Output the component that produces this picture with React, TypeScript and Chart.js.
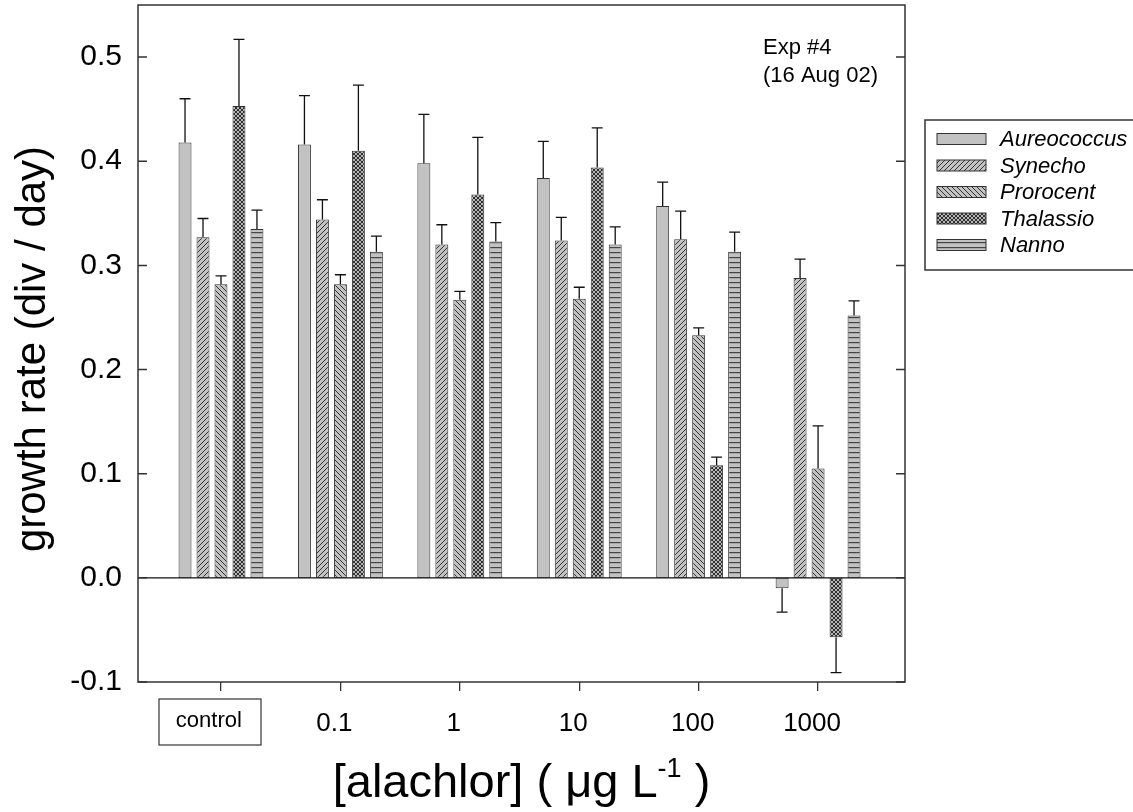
import React, { useEffect, useRef } from 'react';
import { Chart, registerables } from 'chart.js';

Chart.register(...registerables);

const categories = ['control', '0.1', '1', '10', '100', '1000'];
const seriesNames = ['Aureococcus', 'Synecho', 'Prorocent', 'Thalassio', 'Nanno'];

const aureococcus = [0.418, 0.416, 0.398, 0.384, 0.357, -0.010];
const synecho = [0.327, 0.344, 0.320, 0.324, 0.325, 0.288];
const prorocent = [0.282, 0.282, 0.267, 0.268, 0.233, 0.105];
const thalassio = [0.453, 0.410, 0.368, 0.394, 0.108, -0.057];
const nanno = [0.335, 0.313, 0.323, 0.320, 0.313, 0.252];

const aureococcusErr = [0.042, 0.047, 0.047, 0.035, 0.023, 0.023];
const synechoErr = [0.018, 0.019, 0.019, 0.022, 0.027, 0.018];
const prorocentErr = [0.008, 0.009, 0.008, 0.011, 0.007, 0.041];
const thalassioErr = [0.064, 0.063, 0.055, 0.038, 0.008, 0.034];
const nannoErr = [0.018, 0.015, 0.018, 0.017, 0.019, 0.014];

const yTickValues = [-0.1, 0.0, 0.1, 0.2, 0.3, 0.4, 0.5];

const FONT = "'Liberation Sans', Arial, Helvetica, sans-serif";

function makePattern(kind: string): CanvasPattern | string {
  const bg = '#c2c2c2';
  if (kind === 'solid') return bg;
  const c = document.createElement('canvas');
  const g = c.getContext('2d') as CanvasRenderingContext2D;
  if (kind === 'hlines') {
    c.width = 4; c.height = 5;
    g.fillStyle = bg; g.fillRect(0, 0, 4, 5);
    g.fillStyle = '#444'; g.fillRect(0, 2, 4, 1.2);
  } else {
    const s = kind === 'cross' ? 4 : 5;
    c.width = s; c.height = s;
    g.fillStyle = kind === 'cross' ? '#b4b4b4' : bg;
    g.fillRect(0, 0, s, s);
    g.strokeStyle = kind === 'cross' ? '#222' : '#333';
    g.lineWidth = kind === 'cross' ? 0.9 : 1;
    g.beginPath();
    for (const k of [-s, 0, s]) {
      if (kind === 'fwd' || kind === 'cross') { g.moveTo(k, s); g.lineTo(k + s, 0); }
      if (kind === 'back' || kind === 'cross') { g.moveTo(k, 0); g.lineTo(k + s, s); }
    }
    g.stroke();
  }
  const p = g.createPattern(c, 'repeat');
  return p || bg;
}

export default function App() {
  const ref = useRef<HTMLCanvasElement | null>(null);

  useEffect(() => {
    document.body.style.margin = '0';
    const canvas = ref.current;
    if (!canvas) return;

    const values = [aureococcus, synecho, prorocent, thalassio, nanno];
    const errors = [aureococcusErr, synechoErr, prorocentErr, thalassioErr, nannoErr];
    const kinds = ['solid', 'fwd', 'back', 'cross', 'hlines'];
    const fills = kinds.map(makePattern);

    const decor = {
      id: 'decor',
      afterDatasetsDraw(chart: any) {
        const ctx: CanvasRenderingContext2D = chart.ctx;
        const { left, right, top, bottom } = chart.chartArea;
        const ys = chart.scales.y;
        const xs = chart.scales.x;
        ctx.save();

        // error bars
        ctx.strokeStyle = '#111';
        ctx.lineWidth = 1.3;
        chart.data.datasets.forEach((ds: any, i: number) => {
          const meta = chart.getDatasetMeta(i);
          meta.data.forEach((bar: any, j: number) => {
            const v = ds.data[j].y;
            const e = errors[i][j];
            const end = v >= 0 ? v + e : v - e;
            const py = ys.getPixelForValue(end);
            const half = bar.width / 2 - 1;
            ctx.beginPath();
            ctx.moveTo(bar.x, bar.y);
            ctx.lineTo(bar.x, py);
            ctx.moveTo(bar.x - half, py);
            ctx.lineTo(bar.x + half, py);
            ctx.stroke();
          });
        });

        // zero line
        ctx.strokeStyle = '#111';
        ctx.lineWidth = 1.3;
        const y0 = ys.getPixelForValue(0);
        ctx.beginPath();
        ctx.moveTo(left, y0);
        ctx.lineTo(right, y0);
        ctx.stroke();

        // frame
        ctx.strokeStyle = '#333';
        ctx.lineWidth = 1.5;
        ctx.strokeRect(left, top, right - left, bottom - top);

        // inward y ticks (left and right)
        ctx.beginPath();
        yTickValues.forEach((v) => {
          const py = ys.getPixelForValue(v);
          ctx.moveTo(left, py); ctx.lineTo(left + 9, py);
          ctx.moveTo(right, py); ctx.lineTo(right - 9, py);
        });
        ctx.stroke();

        // control box
        const cx = xs.getPixelForValue(0) - 11;
        ctx.strokeStyle = '#333';
        ctx.lineWidth = 1.2;
        ctx.strokeRect(cx - 51, 699, 102, 46);

        // legend
        const lx = 925, ly = 120, lb = 270;
        ctx.strokeStyle = '#333';
        ctx.lineWidth = 1.5;
        ctx.beginPath();
        ctx.moveTo(1140, ly); ctx.lineTo(lx, ly); ctx.lineTo(lx, lb); ctx.lineTo(1140, lb);
        ctx.stroke();
        const rows = [139, 165.5, 192, 218.5, 245];
        ctx.font = `italic 22px ${FONT}`;
        ctx.textBaseline = 'middle';
        ctx.textAlign = 'left';
        seriesNames.forEach((name, i) => {
          const ry = rows[i];
          ctx.fillStyle = fills[i] as any;
          ctx.fillRect(937, ry - 5.5, 49, 11);
          ctx.strokeStyle = '#333';
          ctx.lineWidth = 1;
          ctx.strokeRect(937, ry - 5.5, 49, 11);
          ctx.fillStyle = '#000';
          ctx.fillText(name, 1000, ry + 1);
        });

        // annotation
        ctx.font = `22px ${FONT}`;
        ctx.textBaseline = 'alphabetic';
        ctx.fillStyle = '#000';
        ctx.fillText('Exp #4', 763, 54);
        ctx.fillText('(16 Aug 02)', 763, 82);

        // y title
        ctx.save();
        ctx.translate(45, 349);
        ctx.rotate(-Math.PI / 2);
        ctx.font = `42px ${FONT}`;
        ctx.textAlign = 'center';
        ctx.textBaseline = 'alphabetic';
        ctx.fillText('growth rate (div / day)', 0, 0);
        ctx.restore();

        // x title with superscript
        const big = `47px ${FONT}`;
        const small = `27px ${FONT}`;
        const p1 = '[alachlor] ( \u03bcg L';
        const p2 = '-1';
        const p3 = ' )';
        ctx.font = big; const w1 = ctx.measureText(p1).width; const w3 = ctx.measureText(p3).width;
        ctx.font = small; const w2 = ctx.measureText(p2).width;
        const total = w1 + w2 + w3;
        let tx = (left + right) / 2 - total / 2;
        const base = 797;
        ctx.textAlign = 'left';
        ctx.font = big; ctx.fillText(p1, tx, base); tx += w1;
        ctx.font = small; ctx.fillText(p2, tx, base - 20); tx += w2;
        ctx.font = big; ctx.fillText(p3, tx, base);

        ctx.restore();
      },
    };

    const chart = new Chart(canvas, {
      type: 'bar',
      data: {
        datasets: seriesNames.map((name, i) => ({
          label: name,
          data: values[i].map((v, j) => ({ x: j, y: v })),
          backgroundColor: fills[i] as any,
          borderColor: '#333',
          borderWidth: 1,
          borderSkipped: false,
          categoryPercentage: 0.753,
          barPercentage: 0.72,
        })),
      },
      options: {
        responsive: false,
        animation: false,
        events: [],
        layout: { padding: { left: 0, right: 228, top: 5, bottom: 0 } },
        plugins: {
          legend: { display: false },
          tooltip: { enabled: false },
        },
        scales: {
          x: {
            type: 'linear',
            min: -0.695,
            max: 5.728,
            offset: false,
            border: { display: false },
            grid: {
              display: true,
              offset: false,
              drawOnChartArea: false,
              drawTicks: true,
              tickLength: 9,
              color: '#333',
              lineWidth: 1.3,
            },
            afterBuildTicks: (scale: any) => {
              scale.ticks = categories.map((_, i) => ({ value: i }));
            },
            afterFit: (scale: any) => {
              scale.height = 130;
              scale.paddingLeft = 0;
              scale.paddingRight = 0;
            },
            ticks: {
              autoSkip: false,
              maxRotation: 0,
              padding: 17,
              labelOffset: -6,
              color: '#000',
              font: (c: any) => (c.index === 0 ? { size: 22, family: FONT } : { size: 26, family: FONT }),
              callback: (v: any) => {
                const i = Math.round(Number(v));
                return i === 0 ? categories[0] + '  ' : categories[i] ?? '';
              },
            },
          },
          y: {
            type: 'linear',
            min: -0.1,
            max: 0.55,
            border: { display: false },
            grid: { display: false, drawTicks: false },
            afterBuildTicks: (scale: any) => {
              scale.ticks = yTickValues.map((v) => ({ value: v }));
            },
            afterFit: (scale: any) => {
              scale.width = 138;
              scale.paddingTop = 0;
              scale.paddingBottom = 0;
            },
            ticks: {
              padding: 16,
              color: '#000',
              font: { size: 30, family: FONT },
              callback: (v: any) => Number(v).toFixed(1),
            },
          },
        },
      },
      plugins: [decor],
    } as any);

    return () => chart.destroy();
  }, []);

  return (
    <div style={{ width: 1133, height: 812, background: '#fff' }}>
      <canvas ref={ref} width={1133} height={812} style={{ display: 'block' }} />
    </div>
  );
}
